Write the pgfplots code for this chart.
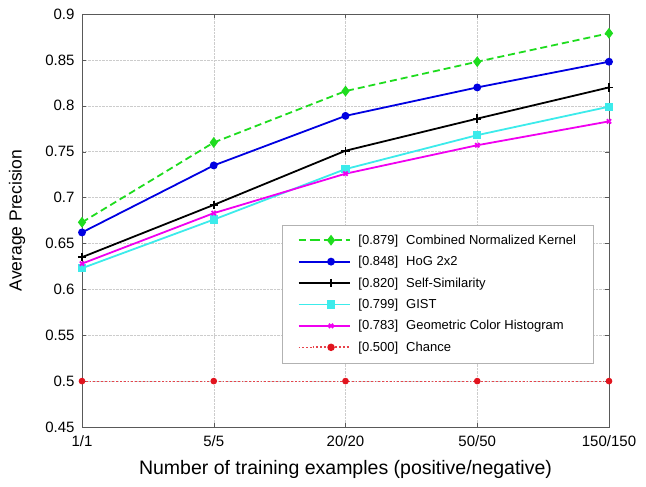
\documentclass[border=0pt]{standalone}
\usepackage{pgfplots}
\pgfplotsset{compat=1.18}
\usepackage{fontspec}
\setmainfont{Liberation Sans}
\definecolor{cgreen}{RGB}{30,220,30}
\definecolor{cblue}{RGB}{0,0,225}
\definecolor{ccyan}{RGB}{60,235,235}
\definecolor{cmag}{RGB}{240,0,240}
\definecolor{cred}{RGB}{225,20,30}
\newcommand{\lf}{\fontsize{13}{15}\selectfont}
\begin{document}
\begin{tikzpicture}
\begin{axis}[
  name=ax,
  scale only axis, width=527pt, height=413pt,
  xmin=0, xmax=4, ymin=0.45, ymax=0.9,
  xtick={0,1,2,3,4}, xticklabels={1/1,5/5,20/20,50/50,150/150},
  ytick={0.45,0.5,0.55,0.6,0.65,0.7,0.75,0.8,0.85,0.9},
  yticklabels={0.45,0.5,0.55,0.6,0.65,0.7,0.75,0.8,0.85,0.9},
  grid=major, grid style={densely dotted, gray!40},
  tick label style={font=\fontsize{15}{17}\selectfont},
  yticklabel style={xshift=-4pt},
  xticklabel style={yshift=-5pt},
  /pgf/number format/assume math mode=true,
  xlabel={Number of training examples (positive/negative)},
  ylabel={Average Precision},
  every axis x label/.style={at={(axis description cs:0.5,-0.104)}, anchor=center, font=\fontsize{19.5}{22}\selectfont},
  every axis y label/.style={at={(axis description cs:-0.123,0.5)}, rotate=90, anchor=center, font=\fontsize{17.5}{20}\selectfont},
  axis line style={gray!70!black},
  tick style={gray!70!black},
  legend style={at={(0.970,0.155)}, anchor=south east, font=\lf, draw=gray!60, row sep=6.5pt, column sep=6pt, inner xsep=15pt, inner ysep=8pt},
  legend cell align=left,
  legend image code/.code={\path (-14pt,0) -- (0,0); \draw[line width=1.8pt,mark repeat=2,mark phase=2,#1] plot coordinates {(0cm,0cm) (0.65cm,0cm) (1.3cm,0cm)};},
  every axis plot/.append style={line width=1.8pt},
]
\addplot[color=cgreen, dash pattern=on 7pt off 4pt, mark=diamond*, mark size=4pt, mark options={solid}] coordinates {(0,0.673) (1,0.760) (2,0.816) (3,0.848) (4,0.879)};
\addlegendentry{[0.879]\hspace{8pt}Combined Normalized Kernel}
\addplot[color=cblue, mark=*, mark size=3pt] coordinates {(0,0.662) (1,0.735) (2,0.789) (3,0.820) (4,0.848)};
\addlegendentry{[0.848]\hspace{8pt}HoG 2x2}
\addplot[color=black, mark=+, mark size=4.2pt] coordinates {(0,0.635) (1,0.692) (2,0.751) (3,0.786) (4,0.820)};
\addlegendentry{[0.820]\hspace{8pt}Self-Similarity}
\addplot[color=ccyan, mark=square*, mark size=3.2pt] coordinates {(0,0.623) (1,0.676) (2,0.731) (3,0.768) (4,0.799)};
\addlegendentry{[0.799]\hspace{8pt}GIST}
\addplot[color=cmag, mark=x, mark size=3pt] coordinates {(0,0.628) (1,0.683) (2,0.726) (3,0.757) (4,0.783)};
\addlegendentry{[0.783]\hspace{8pt}Geometric Color Histogram}
\addplot[color=cred!80, dotted, line width=1pt, mark=*, mark size=2.8pt, mark options={solid, fill=cred, draw=cred}] coordinates {(0,0.5) (1,0.5) (2,0.5) (3,0.5) (4,0.5)};
\addlegendentry{[0.500]\hspace{8pt}Chance}
\end{axis}
\path ([xshift=-82pt,yshift=-59pt]ax.south west) rectangle ([xshift=37pt,yshift=14pt]ax.north east);
\end{tikzpicture}
\end{document}
